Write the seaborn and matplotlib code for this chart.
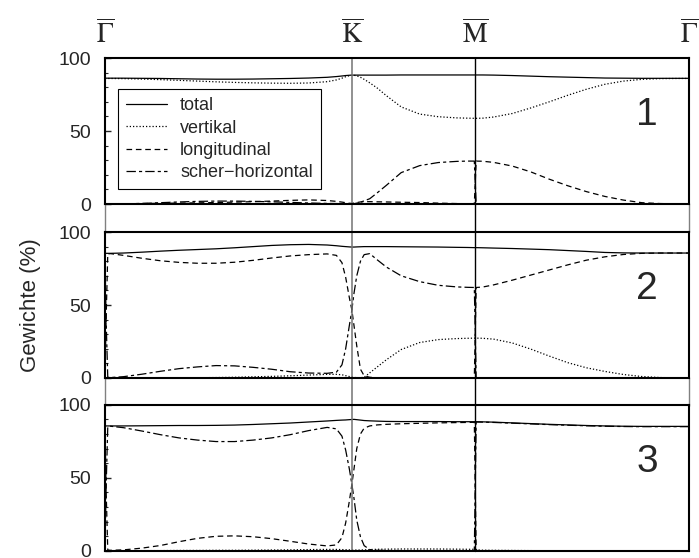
import numpy as np
import pandas as pd
import matplotlib
matplotlib.use('Agg')
import matplotlib.pyplot as plt
import seaborn as sns

# path through the surface Brillouin zone (Gamma - K - M - Gamma)
K_POS = 4 / 3
M_POS = 2.0
G_END = 2 + 2 / np.sqrt(3)
sym_ticks = [0.0, K_POS, M_POS, G_END]
sym_labels = [r'$\overline{\Gamma}$', r'$\overline{\mathrm{K}}$',
              r'$\overline{\mathrm{M}}$', r'$\overline{\Gamma}$']
components = ['total', 'vertikal', 'longitudinal', 'scher−horizontal']

k_path = [0.0, 0.006, 0.015, 0.03,
          0.1, 0.2, 0.3, 0.4, 0.5, 0.6, 0.7, 0.8, 0.9, 1.0, 1.1, 1.2,
          1.25, 1.28, 1.3, 1.32, 1.333, 1.345, 1.36, 1.38, 1.4, 1.43, 1.47, 1.52,
          1.6, 1.7, 1.8, 1.9, 1.96, 1.995,
          2.0, 2.005, 2.04,
          2.1, 2.2, 2.3, 2.4, 2.5, 2.6, 2.7, 2.8, 2.9, 3.0, 3.1, 3.1547]

# panel 1
total1 = [86.2, 86.2, 86.2, 86.2,
          86.2, 86.1, 86.0, 85.8, 85.6, 85.5, 85.5, 85.6, 85.8, 86.0, 86.3, 86.8,
          87.3, 87.7, 88.0, 88.2, 88.3, 88.3, 88.3, 88.3, 88.3, 88.3, 88.3, 88.3,
          88.4, 88.4, 88.4, 88.4, 88.4, 88.4,
          88.4, 88.4, 88.4,
          88.3, 88.0, 87.6, 87.2, 86.9, 86.6, 86.3, 86.2, 86.1, 86.1, 86.1, 86.1]
vert1 = [86.0, 86.0, 86.0, 86.0,
         85.9, 85.6, 85.2, 84.7, 84.2, 83.7, 83.3, 83.0, 82.8, 82.7, 82.9, 83.8,
         85.0, 86.2, 87.2, 87.9, 88.2, 88.2, 87.8, 86.8, 85.4, 83.0, 79.5, 74.2,
         66.5, 61.6, 59.8, 59.0, 58.8, 58.7,
         58.7, 58.7, 58.8,
         59.6, 62.0, 65.8, 70.0, 74.5, 78.6, 82.0, 84.2, 85.4, 85.9, 86.0, 86.0]
long1 = [0.0, 0.0, 0.0, 0.0,
         0.2, 0.3, 0.5, 0.6, 0.8, 1.0, 1.3, 1.6, 2.0, 2.5, 2.8, 2.4,
         1.8, 1.3, 0.9, 0.5, 0.4, 0.6, 1.0, 1.4, 1.6, 1.6, 1.5, 1.4,
         1.2, 1.0, 0.6, 0.3, 0.2, 0.1,
         14.7, 29.4, 29.3,
         28.5, 26.0, 22.0, 17.0, 12.5, 8.5, 5.2, 2.7, 0.9, 0.3, 0.1, 0.0]
shear1 = [0.0, 0.0, 0.0, 0.0,
          0.1, 0.4, 0.9, 1.4, 1.8, 2.0, 2.0, 1.8, 1.5, 1.1, 0.7, 0.4,
          0.3, 0.2, 0.2, 0.1, 0.1, 0.2, 0.6, 1.2, 2.2, 3.6, 7.6, 12.8,
          21.5, 26.3, 28.4, 29.2, 29.4, 29.4,
          14.7, 0.0, 0.0,
          0.0, 0.0, 0.0, 0.0, 0.0, 0.0, 0.0, 0.0, 0.0, 0.0, 0.0, 0.0]

# panel 2
total2 = [85.4, 85.4, 85.4, 85.4,
          85.6, 86.2, 86.9, 87.5, 88.0, 88.5, 89.2, 90.0, 90.8, 91.3, 91.5, 91.1,
          90.6, 90.2, 90.0, 89.8, 89.7, 89.7, 89.8, 89.9, 90.0, 90.0, 90.0, 90.0,
          89.9, 89.8, 89.7, 89.5, 89.4, 89.3,
          89.3, 89.3, 89.2,
          89.0, 88.7, 88.3, 87.9, 87.3, 86.7, 86.0, 85.7, 85.6, 85.6, 85.6, 85.6]
vert2 = [0.0, 0.0, 0.0, 0.0,
         0.0, 0.0, 0.1, 0.1, 0.2, 0.3, 0.5, 0.8, 1.1, 1.5, 2.0, 2.5,
         2.5, 2.2, 1.6, 1.0, 0.7, 0.4, 0.2, 0.2, 0.5, 3.5, 7.5, 12.5,
         19.5, 24.3, 26.3, 27.0, 27.2, 27.3,
         27.3, 27.3, 27.2,
         26.6, 24.0, 19.8, 15.0, 10.5, 7.0, 4.5, 2.4, 1.0, 0.3, 0.1, 0.0]
long2 = [2.0, 40.0, 85.0, 85.2,
         84.0, 82.0, 80.3, 79.2, 78.6, 78.6, 79.3, 80.6, 82.2, 83.6, 84.5, 85.0,
         84.0, 79.0, 69.0, 55.0, 47.0, 36.0, 22.0, 6.0, 1.5, 0.5, 0.2, 0.1,
         0.0, 0.0, 0.0, 0.0, 0.0, 0.0,
         31.0, 62.0, 62.3,
         63.8, 67.0, 70.5, 74.0, 77.5, 80.7, 83.0, 84.6, 85.4, 85.6, 85.6, 85.6]
shear2 = [83.0, 40.0, 0.5, 0.3,
          0.9, 2.6, 4.6, 6.4, 7.6, 8.5, 8.3, 7.3, 6.0, 4.3, 3.4, 3.2,
          4.0, 9.0, 20.0, 36.0, 46.0, 58.0, 70.0, 80.0, 84.5, 85.2, 81.0, 76.0,
          70.0, 66.0, 63.5, 62.4, 62.1, 62.0,
          31.0, 0.0, 0.0,
          0.0, 0.0, 0.0, 0.0, 0.0, 0.0, 0.0, 0.0, 0.0, 0.0, 0.0, 0.0]

# panel 3
total3 = [85.5, 85.5, 85.5, 85.5,
          85.5, 85.6, 85.7, 85.8, 85.8, 85.9, 86.1, 86.5, 87.0, 87.5, 88.2, 88.9,
          89.3, 89.5, 89.6, 89.8, 89.9, 90.0, 89.8, 89.5, 89.2, 89.0, 88.8, 88.6,
          88.5, 88.5, 88.5, 88.4, 88.4, 88.4,
          88.4, 88.4, 88.3,
          88.1, 87.6, 87.1, 86.6, 86.2, 85.8, 85.5, 85.3, 85.2, 85.2, 85.2, 85.2]
vert3 = [0.0, 0.0, 0.0, 0.0,
         0.0, 0.1, 0.1, 0.2, 0.2, 0.3, 0.3, 0.4, 0.5, 0.6, 0.8, 0.9,
         0.9, 0.8, 0.7, 0.6, 0.5, 0.5, 0.5, 0.5, 0.6, 0.8, 1.0, 1.1,
         1.2, 1.2, 1.2, 1.1, 1.0, 1.0,
         0.8, 0.5, 0.4,
         0.3, 0.2, 0.1, 0.0, 0.0, 0.0, 0.0, 0.0, 0.0, 0.0, 0.0, 0.0]
long3 = [85.0, 42.0, 0.5, 0.3,
         0.6, 1.8, 3.6, 6.2, 8.5, 9.9, 10.2, 9.6, 8.3, 6.5, 4.6, 3.3,
         4.0, 9.0, 19.0, 34.0, 45.0, 56.0, 70.0, 80.0, 84.0, 85.5, 86.2, 86.6,
         87.0, 87.3, 87.6, 87.8, 87.9, 88.0,
         44.0, 0.2, 0.1,
         0.1, 0.1, 0.0, 0.0, 0.0, 0.0, 0.0, 0.0, 0.0, 0.0, 0.0, 0.0]
shear3 = [1.0, 43.0, 85.0, 85.3,
          84.3, 82.0, 79.5, 77.3, 75.8, 74.8, 74.8, 75.8, 77.3, 79.5, 82.3, 84.5,
          83.5, 78.5, 69.0, 56.0, 46.0, 36.0, 21.0, 9.5, 3.5, 0.8, 0.3, 0.2,
          0.1, 0.1, 0.1, 0.1, 0.1, 0.1,
          44.0, 88.2, 88.1,
          87.9, 87.4, 86.9, 86.4, 86.0, 85.6, 85.3, 85.1, 85.0, 85.0, 85.0, 85.0]

panels = [[total1, vert1, long1, shear1],
          [total2, vert2, long2, shear2],
          [total3, vert3, long3, shear3]]
panel_names = ['1', '2', '3']

sns.set_style('ticks')
plt.rcParams['font.family'] = ['Liberation Sans', 'DejaVu Sans']
plt.rcParams['mathtext.fontset'] = 'stix'

dash_map = {'total': '', 'vertikal': (1, 1.6),
            'longitudinal': (4.5, 3), 'scher−horizontal': (7.5, 2.5, 2.5, 2.5)}

fig = plt.figure(figsize=(6.99, 5.58), dpi=100)
left, width, height = 0.1502, 0.8355, 0.2616
bottoms = [0.6344, 0.3226, 0.0130]
gap = 28 / 146

axes = []
for i, curves in enumerate(panels):
    ax = fig.add_axes([left, bottoms[i], width, height])
    axes.append(ax)
    rows = []
    for comp, vals in zip(components, curves):
        rows.append(pd.DataFrame({'k': k_path, 'w': vals, 'comp': comp}))
    df = pd.concat(rows, ignore_index=True)
    sns.lineplot(data=df, x='k', y='w', style='comp', style_order=components,
                 dashes=dash_map, color='black', linewidth=0.9,
                 estimator=None, sort=False, ax=ax, legend=(i == 0))

    ext = gap if i < 2 else 0
    ax.axvline(K_POS, ymin=-ext, ymax=1, color='0.45', lw=1.1, clip_on=False)
    ax.axvline(M_POS, ymin=-ext, ymax=1, color='black', lw=1.0, clip_on=False)
    if ext:
        for xe in (0.0, G_END):
            ax.axvline(xe, ymin=-ext, ymax=0, color='0.5', lw=1.0, clip_on=False)

    ax.set_xlim(0, G_END)
    ax.set_ylim(0, 100)
    ax.set_xticks([])
    ax.set_xlabel('')
    ax.set_ylabel('')
    ax.set_yticks([0, 50, 100])
    ax.set_yticks(range(0, 101, 10), minor=True)
    ax.tick_params(axis='y', which='major', direction='in', length=4, width=1,
                   labelsize=14, pad=10, right=False)
    ax.tick_params(axis='y', which='minor', direction='in', length=2.2, width=0.8,
                   right=False)
    for sp in ax.spines.values():
        sp.set_color('black')
        sp.set_linewidth(1.5)
    ax.text(0.928, 0.61, panel_names[i], transform=ax.transAxes,
            fontsize=28, ha='center', va='center')

ax0 = axes[0]
h, l = ax0.get_legend_handles_labels()
leg = ax0.legend(h, l, loc='upper left', bbox_to_anchor=(0.022, 0.788),
                 frameon=True, fancybox=False, edgecolor='black', framealpha=1,
                 fontsize=13, handlelength=2.3, handletextpad=0.7,
                 labelspacing=0.3, borderpad=0.45, borderaxespad=0)
leg.get_frame().set_linewidth(0.8)

for x, lab in zip(sym_ticks, sym_labels):
    ax0.text(x, 1.103, lab, transform=ax0.get_xaxis_transform(),
             ha='center', va='baseline', fontsize=20)

fig.text(0.044, 0.454, 'Gewichte (%)', rotation=90, ha='center', va='center',
         fontsize=16)

fig.savefig('out.png', dpi=100)
